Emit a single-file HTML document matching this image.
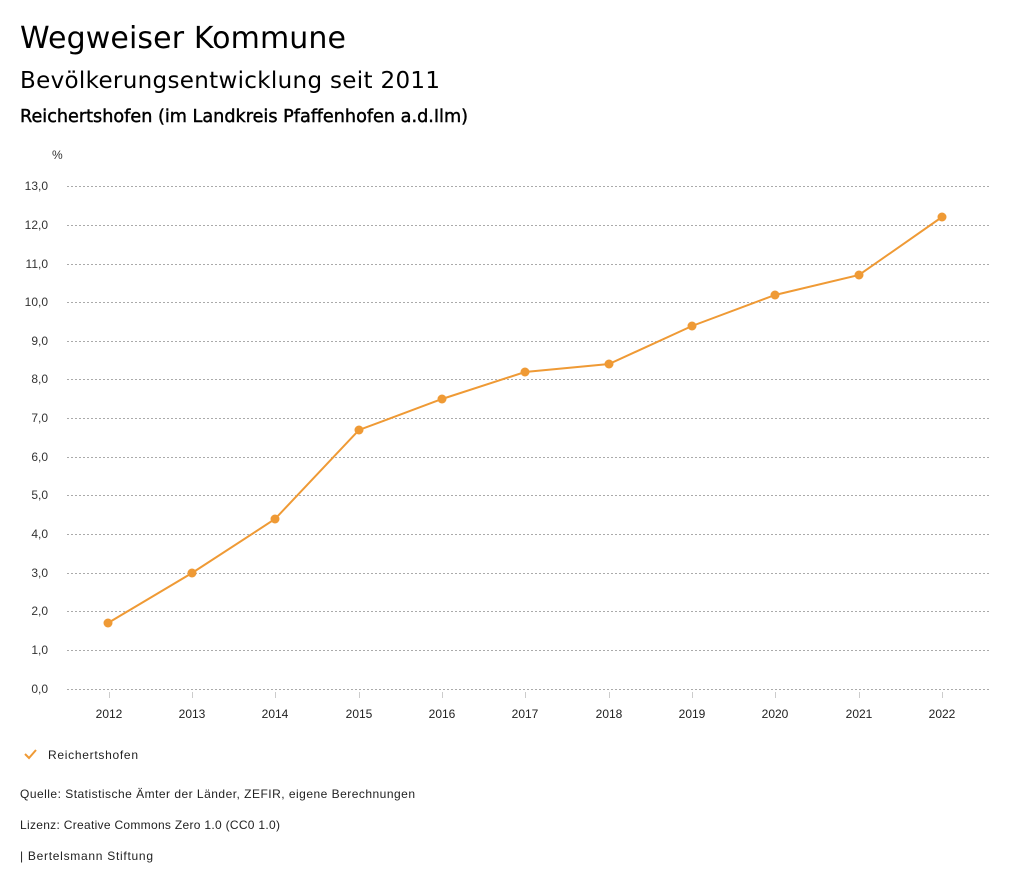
<!DOCTYPE html>
<html><head><meta charset="utf-8"><style>
body{margin:0;background:#fff;width:1024px;height:888px;overflow:hidden}
svg text{font-family:"Liberation Sans",sans-serif}
</style></head><body>
<svg width="1024" height="888" xmlns="http://www.w3.org/2000/svg">
<text x="20" y="48" style="font-family:'DejaVu Sans',sans-serif" font-size="30" fill="#000" textLength="326">Wegweiser Kommune</text>
<text x="20" y="88" style="font-family:'DejaVu Sans',sans-serif" font-size="23" fill="#000" textLength="420">Bevölkerungsentwicklung seit 2011</text>
<text x="20" y="122" style="font-family:'DejaVu Sans',sans-serif" font-size="18" fill="#000" stroke="#000" stroke-width="0.45" textLength="448" lengthAdjust="spacingAndGlyphs">Reichertshofen (im Landkreis Pfaffenhofen a.d.Ilm)</text>
<text x="52" y="159" font-size="12" fill="#333">%</text>
<g stroke="#aaa" stroke-dasharray="2,2" stroke-width="1">
<line x1="67" x2="990" y1="186.5" y2="186.5"/><line x1="67" x2="990" y1="225.5" y2="225.5"/><line x1="67" x2="990" y1="264.5" y2="264.5"/><line x1="67" x2="990" y1="302.5" y2="302.5"/><line x1="67" x2="990" y1="341.5" y2="341.5"/><line x1="67" x2="990" y1="379.5" y2="379.5"/><line x1="67" x2="990" y1="418.5" y2="418.5"/><line x1="67" x2="990" y1="457.5" y2="457.5"/><line x1="67" x2="990" y1="495.5" y2="495.5"/><line x1="67" x2="990" y1="534.5" y2="534.5"/><line x1="67" x2="990" y1="573.5" y2="573.5"/><line x1="67" x2="990" y1="611.5" y2="611.5"/><line x1="67" x2="990" y1="650.5" y2="650.5"/><line x1="67" x2="990" y1="689.5" y2="689.5"/>
</g>
<g font-size="12" fill="#333" text-anchor="end">
<text x="48" y="190">13,0</text><text x="48" y="229">12,0</text><text x="48" y="268">11,0</text><text x="48" y="306">10,0</text><text x="48" y="345">9,0</text><text x="48" y="383">8,0</text><text x="48" y="422">7,0</text><text x="48" y="461">6,0</text><text x="48" y="499">5,0</text><text x="48" y="538">4,0</text><text x="48" y="577">3,0</text><text x="48" y="615">2,0</text><text x="48" y="654">1,0</text><text x="48" y="693">0,0</text>
</g>
<g stroke="#ccc"><line x1="109.5" x2="109.5" y1="692" y2="698"/><line x1="192.5" x2="192.5" y1="692" y2="698"/><line x1="275.5" x2="275.5" y1="692" y2="698"/><line x1="359.5" x2="359.5" y1="692" y2="698"/><line x1="442.5" x2="442.5" y1="692" y2="698"/><line x1="525.5" x2="525.5" y1="692" y2="698"/><line x1="609.5" x2="609.5" y1="692" y2="698"/><line x1="692.5" x2="692.5" y1="692" y2="698"/><line x1="775.5" x2="775.5" y1="692" y2="698"/><line x1="859.5" x2="859.5" y1="692" y2="698"/><line x1="942.5" x2="942.5" y1="692" y2="698"/></g>
<g font-size="12" fill="#222" text-anchor="middle">
<text x="109" y="718">2012</text><text x="192" y="718">2013</text><text x="275" y="718">2014</text><text x="359" y="718">2015</text><text x="442" y="718">2016</text><text x="525" y="718">2017</text><text x="609" y="718">2018</text><text x="692" y="718">2019</text><text x="775" y="718">2020</text><text x="859" y="718">2021</text><text x="942" y="718">2022</text>
</g>
<polyline fill="none" stroke="#ef9a35" stroke-width="2" points="108,623 192,573 275,519 359,430 442,399 525,372 609,364 692,326 775,295 859,275 942,217"/>
<g fill="#ef9a35"><circle cx="108" cy="623" r="4.5"/><circle cx="192" cy="573" r="4.5"/><circle cx="275" cy="519" r="4.5"/><circle cx="359" cy="430" r="4.5"/><circle cx="442" cy="399" r="4.5"/><circle cx="525" cy="372" r="4.5"/><circle cx="609" cy="364" r="4.5"/><circle cx="692" cy="326" r="4.5"/><circle cx="775" cy="295" r="4.5"/><circle cx="859" cy="275" r="4.5"/><circle cx="942" cy="217" r="4.5"/></g>
<polyline fill="none" stroke="#ef9a35" stroke-width="2" points="25,754 29,758 36,750"/>
<text x="48" y="759" font-size="12" fill="#222" textLength="90">Reichertshofen</text>
<text x="20" y="798" font-size="12" fill="#222" textLength="395">Quelle: Statistische Ämter der Länder, ZEFIR, eigene Berechnungen</text>
<text x="20" y="829" font-size="12" fill="#222" textLength="260">Lizenz: Creative Commons Zero 1.0 (CC0 1.0)</text>
<text x="20" y="860" font-size="12" fill="#222" textLength="133">| Bertelsmann Stiftung</text>
</svg>
</body></html>
